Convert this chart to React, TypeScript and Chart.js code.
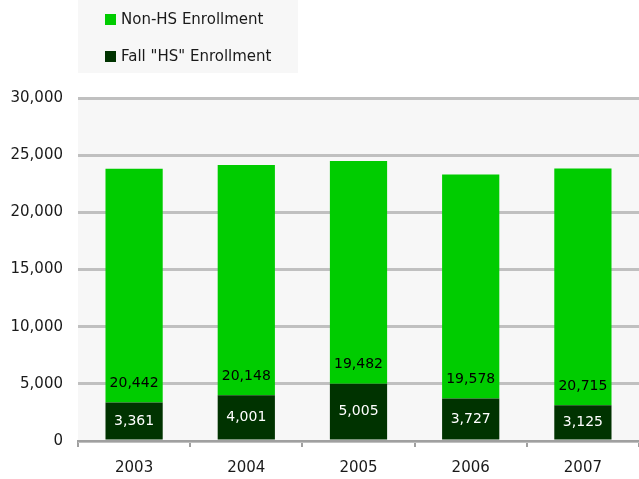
import React, { useEffect, useRef } from "react";
import { Chart, registerables } from "chart.js";

Chart.register(...registerables);

const categories = ["2003", "2004", "2005", "2006", "2007"];
const hsEnrollment = [3361, 4001, 5005, 3727, 3125];
const nonHsEnrollment = [20442, 20148, 19482, 19578, 20715];
const seriesNames = ["Fall \"HS\" Enrollment", "Non-HS Enrollment"];
const yTicks = [0, 5000, 10000, 15000, 20000, 25000, 30000];

const FONT = "'DejaVu Sans', sans-serif";

const decorPlugin = {
  id: "decor",
  beforeDraw(chart: any) {
    const { ctx, chartArea } = chart;
    ctx.save();
    ctx.fillStyle = "#f7f7f7";
    ctx.fillRect(chartArea.left, chartArea.top, chartArea.right - chartArea.left, chartArea.bottom - chartArea.top);
    // legend box
    ctx.fillRect(chartArea.left, 0, 220, 73);
    ctx.restore();
  },
  afterDraw(chart: any) {
    const { ctx, chartArea } = chart;
    ctx.save();
    ctx.font = `15px ${FONT}`;
    ctx.textBaseline = "middle";
    ctx.textAlign = "left";
    const items = [
      { ds: chart.data.datasets[1], y: 19 },
      { ds: chart.data.datasets[0], y: 56 },
    ];
    items.forEach((it) => {
      ctx.fillStyle = it.ds.backgroundColor;
      ctx.fillRect(chartArea.left + 27, it.y - 5, 11, 11);
      ctx.fillStyle = "#1a1a1a";
      ctx.fillText(it.ds.label, chartArea.left + 43, it.y + 1);
    });
    ctx.restore();
  },
  afterDatasetsDraw(chart: any) {
    const { ctx } = chart;
    ctx.save();
    ctx.font = `14px ${FONT}`;
    ctx.textAlign = "center";
    ctx.textBaseline = "middle";
    chart.data.datasets.forEach((ds: any, di: number) => {
      const meta = chart.getDatasetMeta(di);
      meta.data.forEach((el: any, i: number) => {
        const v = ds.data[i];
        const txt = v.toLocaleString("en-US");
        if (di === 0) {
          ctx.fillStyle = "#ffffff";
          ctx.fillText(txt, el.x, (el.y + el.base) / 2);
        } else {
          ctx.fillStyle = "#000000";
          ctx.fillText(txt, el.x, el.base - 19);
        }
      });
    });
    ctx.restore();
  },
};

export default function App() {
  const ref = useRef<HTMLCanvasElement>(null);
  useEffect(() => {
    if (!ref.current) return;
    const chart = new Chart(ref.current, {
      type: "bar",
      data: {
        labels: categories,
        datasets: [
          {
            label: seriesNames[0],
            data: hsEnrollment,
            backgroundColor: "#003300",
            borderWidth: 0,
            categoryPercentage: 1,
            barPercentage: 0.51,
          },
          {
            label: seriesNames[1],
            data: nonHsEnrollment,
            backgroundColor: "#00cc00",
            borderWidth: 0,
            categoryPercentage: 1,
            barPercentage: 0.51,
          },
        ],
      },
      options: {
        animation: false,
        responsive: false,
        maintainAspectRatio: false,
        layout: { padding: { top: 98, right: 0, left: 0, bottom: 0 } },
        plugins: {
          legend: { display: false },
          tooltip: { enabled: false },
        },
        scales: {
          x: {
            stacked: true,
            grid: {
              offset: true,
              drawOnChartArea: false,
              drawTicks: true,
              tickLength: 6,
              color: "#a0a0a0",
              lineWidth: 2,
            },
            border: { display: true, color: "#a0a0a0", width: 2 },
            ticks: {
              color: "#1a1a1a",
              font: { family: FONT, size: 15 },
              padding: 12,
            },
            afterFit(scale: any) {
              scale.height = 38;
            },
          },
          y: {
            stacked: true,
            min: 0,
            max: 30000,
            afterBuildTicks(scale: any) {
              scale.ticks = yTicks.map((v) => ({ value: v }));
            },
            grid: {
              color: "#c0c0c0",
              lineWidth: 3,
              drawTicks: false,
            },
            border: { display: false },
            ticks: {
              color: "#1a1a1a",
              font: { family: FONT, size: 15 },
              padding: 15,
              callback: (v: any) => Number(v).toLocaleString("en-US"),
            },
            afterFit(scale: any) {
              scale.width = 78;
            },
          },
        },
      },
      plugins: [decorPlugin],
    });
    return () => chart.destroy();
  }, []);
  return (
    <div style={{ position: "fixed", left: 0, top: 0, width: 639, height: 479, background: "#fff" }}>
      <canvas ref={ref} width={639} height={479} style={{ width: 639, height: 479 }} />
    </div>
  );
}
